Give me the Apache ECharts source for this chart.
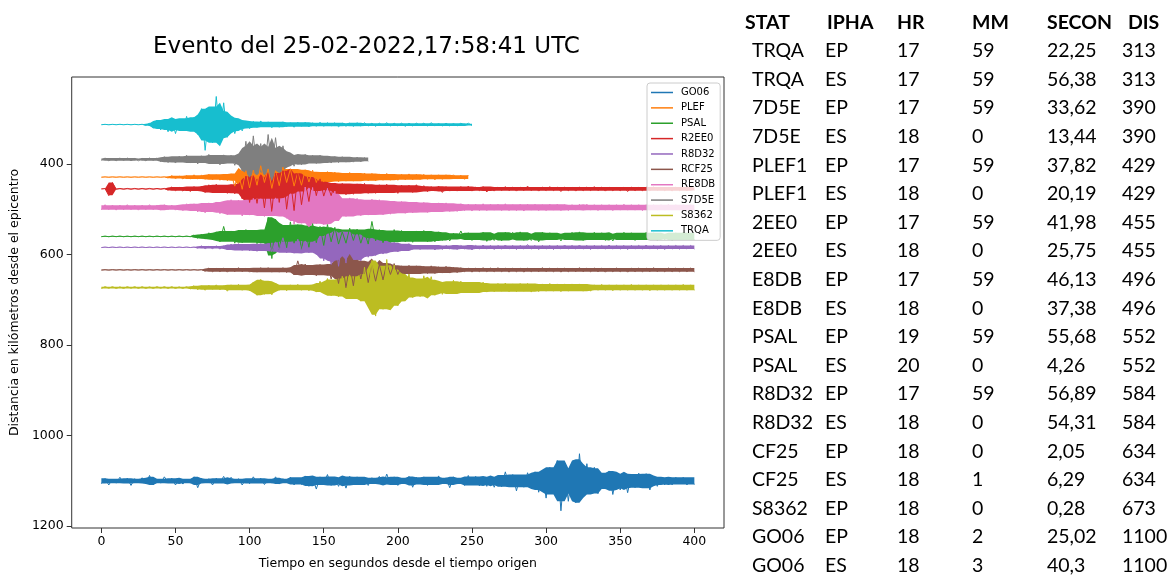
<!DOCTYPE html>
<html>
<head>
<meta charset="utf-8">
<script src="https://cdn.jsdelivr.net/npm/echarts@6/dist/echarts.min.js"></script>
<style>
html, body { margin: 0; padding: 0; background: #fff; }
#wrap { position: relative; width: 1173px; height: 576px; overflow: hidden; }
#chart { position: absolute; left: 0; top: 0; width: 1173px; height: 576px; }
#tabla { position: absolute; left: 0; top: 0; font-family: Lato, 'Open Sans', sans-serif; font-size: 19.5px; color: #000; }
#tabla span { position: absolute; white-space: nowrap; line-height: 24px; }
#tabla .hd { font-weight: bold; }
</style>
</head>
<body>
<div id="wrap">
  <div id="chart"></div>
  <div id="tabla"></div>
</div>
<script>
// estaciones en el orden de la leyenda, distancia en km
const stations = ['GO06', 'PLEF', 'PSAL', 'R2EE0', 'R8D32', 'RCF25', 'RE8DB', 'S7D5E', 'S8362', 'TRQA'];
const distances = [1100, 429, 560, 455, 584, 634, 496, 390, 673, 313];
const xTicks = [0, 50, 100, 150, 200, 250, 300, 350, 400];
const yTicks = [400, 600, 800, 1000, 1200];

// muestras de cada traza (km respecto a la distancia), cada 2.5 s desde t=0
const dt = 2.5;
const GO06 = [
  6,-5,9,-4,5,-8,4,-6,10,-5,4,-7,6,-12,9,-4,5,-9,4,-6,
  9,-5,7,-4,5,-9,15,-6,4,-5,9,-6,4,-10,6,-8,4,-5,9,-4,
  6,-9,4,-6,8,-4,5,-9,7,-5,4,-8,9,-5,
  8,-11,12,-6,18,-9,7,-14,10,-6,12,-8,16,-10,6,-9,
  9,-6,10,-7,5,-10,8,-15,6,-9,10,-5,7,-10,14,-8,5,-9,10,-6,
  9,-11,6,-7,15,-9,7,-5,10,-12,8,-10,11,-6,12,-9,
  14,-9,13,-20,10,-14,22,-11,14,-18,9,-20,
  25,-18,38,-30,22,-45,66,-28,45,-25,48,-60,30,-38,22,-30,28,
  -14,18,-22,30,-12,20,-16,26,-12,15,-17,10,-16,20,-9,12,
  -8,9,-6,9,-8,5,-8,9,-5,8
];
const PLEF = [
  0.5,-0.5,0.6,-0.5,0.5,-0.6,0.5,-0.5,0.6,-0.5,0.5,-0.6,0.5,-0.5,0.6,-0.5,0.5,-0.6,
  2,-3,3,-2,4,-3,4,-5,4,-4,5,-6,6,-5,7,-6,8,-7,
  20,-8,27,-14,
  24,-15,18,-25,12,-18,25,-14,19,-22,12,-18,20,-10,18,-16,11,-15,
  12,-11,11,-12,10,-11,10,-9,9,-10,9,-9,8,-9,8,-8,
  8,-7,7,-8,7,-6,7,-6,6,-7,6,-6,5,-6,5,-5,6,-5,5,-5,4,-5,4,-4,5,-4
];
const PSAL = [
  0.8,-0.7,0.8,-0.8,0.7,-0.8,0.8,-0.7,0.8,-0.8,0.7,-0.8,0.8,-0.7,0.8,-0.8,0.7,-0.8,0.8,-0.7,0.8,-0.8,0.7,-0.8,0.8,
  -3,4,-5,6,-8,7,-10,12,-22,9,-12,15,-8,14,-15,8,-14,16,-9,15,
  -42,49,-38,
  30,-18,25,-32,15,-26,30,-17,24,-28,14,-22,20,-26,12,-20,
  17,-10,15,-18,9,-16,15,-10,17,-33,10,-15,14,-9,13,-15,9,-13,12,-8,13,-12,8,-13,12,-7,12,-10,
  9,-5,10,-7,5,-12,6,-8,9,-5,8,-9,11,-5,9,-6,10,-9,5,-9,
  7,-10,9,-5,9,-6,12,-9,5,-8,8,-6,10,-5,8,-9,6,-10,9,-6,
  8,-9,5,-8,9,-6,10,-5,8,-9,6,-8,9,-5,8,-9,5,-8,9,-6,
  8,-5,9,-8,6,-9,8,-5,8
];
const R2EE0 = [
  0.5,-0.5,
  15,-14,
  1,-1,1,-1,1,-1,1,-1,1,-1,1,-1,1,-1,
  3,-4,4,-3,5,-4,6,-5,4,-6,
  8,-9,7,-10,9,-8,10,-9,11,-10,
  22,-28,30,-15,32,-20,
  42,-25,50,-35,30,-40,45,-22,48,-34,
  35,-18,28,-26,15,-22,
  16,-9,15,-13,8,-12,13,-7,12,-11,7,-12,10,-6,10,-9,6,-10,9,-6,10,-8,5,-8,8,-9,5,-7,
  6,-5,5,-6,8,-5,5,-4,5,-5,4,-6,5,-4,4,-5,7,-4,5,-4,
  4,-5,4,-4,5,-4,4,-6,4,-4,5,-4,4,-5,4,-4,6,-4,4,-4,
  5,-4,4,-4,4,-5,4,-4,5,-4,4,-3,4,-4,6,-4,4,-3,4,-4,
  4,-4,3,-4,4,-3,5,-4,4,-3,4,-4,3
];
const R8D32 = [
  0.7,-0.6,0.7,-0.7,0.6,-0.7,0.7,-0.6,0.7,-0.7,0.6,-0.7,0.7,-0.6,0.7,-0.7,0.6,-0.7,0.7,-0.6,0.7,-0.7,0.6,-0.7,0.7,-0.6,
  2,-3,3,-2,3,-3,4,-3,
  6,-7,6,-8,7,-6,8,-7,9,-8,7,-9,
  10,-12,6,-21,12,-7,13,-18,8,-14,12,-9,16,
  -25,30,-14,38,-32,42,-18,35,-34,20,-28,30,-15,22,-20,
  18,-10,15,-14,8,-11,10,-6,8,-8,
  5,-4,5,-5,4,-5,6,-4,5,-4,4,-5,5,-4,4,-5,6,-4,4,-5,
  4,-4,5,-4,4,-5,4,-4,5,-4,4,-6,4,-4,5,-4,4,-4,5,-4,
  4,-5,4,-4,4,-5,4,-4,5,-4,4,-4,4,-5,4,-4,4,-4,5,-4,
  4,-4,4,-5,4,-4,4,-4,5,-4,4,-4,4,-4,4,-4,4
];
const RCF25 = [
  0.7,-0.6,0.7,-0.7,0.6,-0.7,0.7,-0.6,0.7,-0.7,0.6,-0.7,0.7,-0.6,0.7,-0.7,0.6,-0.7,0.7,-0.6,0.7,-0.7,0.6,-0.7,0.7,-0.6,0.7,-0.7,
  3,-4,4,-3,4,-4,5,-4,4,-5,4,-4,5,-4,5,-5,4,-5,5,-4,5,-5,6,-5,
  11,-20,7,-13,11,-8,13,-12,8,-13,
  20,-10,30,-22,40,-12,35,-22,20,-18,28,-10,
  25,-12,22,-15,10,-14,
  10,-9,9,-10,8,-9,9,-8,8,-9,8,-7,7,-8,7,-6,6,
  -5,4,-4,5,-4,4,-5,4,-4,4,-5,4,-4,5,-4,4,-4,5,-4,4,
  -4,4,-5,4,-4,4,-4,5,-4,4,-4,4,-5,4,-4,4,-4,4,-4,5,
  -4,4,-4,4,-4,5,-4,4,-4,4,-4,4,-5,4,-4,4,-4,4,-4,4,
  -4,4,-4,4
];
const RE8DB = [
  5,-6,5,-5,6,-5,5,-6,5,-5,6,-5,5,-6,5,-5,6,-6,5,-5,6,-5,
  7,-8,5,-8,10,-6,12,-10,7,-12,14,-8,16,
  -17,10,-16,19,-9,17,-20,11,-19,20,-10,19,-21,12,-20,24,
  -30,37,-20,35,-45,22,-44,36,-25,38,-42,20,-36,30,
  -14,20,-21,11,-20,18,-10,17,-18,9,-17,
  16,-9,15,-14,8,-13,13,-8,12,-12,7,-11,11,-7,10,-10,6,-10,9,-6,9,
  -8,7,-7,8,-7,7,-8,7,-7,6,-7,7,-8,7,-6,7,-7,8,-7,6,
  -7,7,-6,7,-7,6,-7,7,-6,7,-6,6,-7,6,-7,6,-6,7,-6,6,
  -6,7,-6,6,-7,6,-6,6,-6,7,-6,6,-6,6,-6,6,-7,6,-6,6,
  -6,6,-6,6
];
const S7D5E = [
  2,-3,3,-2,3,-3,2,-3,3,-2,3,-2,3,-3,2,-3,
  5,-6,7,-4,8,-7,4,-9,8,-5,10,-8,5,-11,10,-6,12,-10,7,-9,13,-8,
  25,-40,30,-52,22,-35,28,-55,20,-48,25,-30,
  18,-10,15,-8,12,-11,6,-9,9,
  -9,8,-7,8,-6,7,-6,6,-5,6,-5,5,-4,4
];
const S8362 = [
  2,-2,1.5,-2,2,-1.5,2,-2,1.5,-2,2,-2,2,-1.5,2,-2,1.5,-2,2,-2,2,-1.5,2,-2,
  3,-4,5,-4,6,-5,4,-6,5,-4,8,-6,5,-7,6,-5,7,
  -12,17,-18,15,-14,16,-10,
  6,-5,7,-6,5,-7,6,-5,7,-6,
  10,-14,6,-20,18,-10,20,-25,12,-28,25,-15,30,
  -45,28,-60,63,-30,48,-62,25,-50,40,
  -31,14,-30,22,-15,20,-26,10,-24,17,-12,
  15,-9,14,-16,8,-14,12,-7,12,-12,6,-12,10,-6,
  9,-9,8,-10,9,-8,9,-9,8,-9,10,-8,9,-8,8,-9,8,-8,9,-8,8,-8,7,-8,8,-7,8,
  -6,6,-7,6,-6,7,-6,6,-6,6,-7,6,-6,6,-6,7,-6,6,-6,6,-6,6,-6,6,-7,6,-6,6
];
const TRQA = [
  0.5,-0.5,0.6,-0.5,0.5,-0.6,0.5,-0.5,0.6,-0.5,0.5,-0.6,
  2,-3,
  8,-10,12,-6,16,-12,20,-9,14,-18,8,-16,
  22,-35,57,-20,40,-62,30,-48,
  28,-15,20,-10,14,-8,9,
  -7,6,-8,5,-6,7,-5,6,-6,5,-4,6,-5,4,-5,5,-4,4,-5,4,
  -4,3,-4,5,-3,4,-3,4,-4,3,-4,3,-3,4,-3,3,-4,3,-3,3,
  -3,4,-3,3,-3,2,-3,3,-4,3,-2,3,-3,3,-2,3,-3,2,-3,2
];
const traces = [GO06, PLEF, PSAL, R2EE0, R8D32, RCF25, RE8DB, S7D5E, S8362, TRQA];

// tabla de fases
const tableHeader = ['STAT', 'IPHA', 'HR', 'MM', 'SECON', 'DIS'];
const colStat = ['TRQA', 'TRQA', '7D5E', '7D5E', 'PLEF1', 'PLEF1', '2EE0', '2EE0', 'E8DB', 'E8DB', 'PSAL', 'PSAL', 'R8D32', 'R8D32', 'CF25', 'CF25', 'S8362', 'GO06', 'GO06'];
const colIpha = ['EP', 'ES', 'EP', 'ES', 'EP', 'ES', 'EP', 'ES', 'EP', 'ES', 'EP', 'ES', 'EP', 'ES', 'EP', 'ES', 'EP', 'EP', 'ES'];
const colHr = ['17', '17', '17', '18', '17', '18', '17', '18', '17', '18', '19', '20', '17', '18', '18', '18', '18', '18', '18'];
const colMm = ['59', '59', '59', '0', '59', '0', '59', '0', '59', '0', '59', '0', '59', '0', '0', '1', '0', '2', '3'];
const colSecon = ['22,25', '56,38', '33,62', '13,44', '37,82', '20,19', '41,98', '25,75', '46,13', '37,38', '55,68', '4,26', '56,89', '54,31', '2,05', '6,29', '0,28', '25,02', '40,3'];
const colDis = ['313', '313', '390', '390', '429', '429', '455', '455', '496', '496', '552', '552', '584', '584', '634', '634', '673', '1100', '1100'];

const colors = ['#1f77b4', '#ff7f0e', '#2ca02c', '#d62728', '#9467bd', '#8c564b', '#e377c2', '#7f7f7f', '#bcbd22', '#17becf'];

function addCell(box, text, x, cy, bold) {
    const s = document.createElement('span');
    s.textContent = text;
    s.style.left = x + 'px';
    s.style.top = (cy - 12) + 'px';
    if (bold) s.className = 'hd';
    box.appendChild(s);
}

function initTable() {
    const box = document.getElementById('tabla');
    const headX = [745, 827, 897, 972, 1047, 1128];
    const bodyX = [752, 825, 897, 972, 1047, 1122];
    const cols = [colStat, colIpha, colHr, colMm, colSecon, colDis];
    tableHeader.forEach((h, c) => addCell(box, h, headX[c], 21.5, true));
    colStat.forEach((_, r) => {
        cols.forEach((col, c) => addCell(box, col[r], bodyX[c], 21.5 + 28.6 * (r + 1), false));
    });
}

// nucleo relleno de la traza: en cada muestra, la mediana de su amplitud y la de sus vecinas;
// los picos sueltos quedan como agujas de la linea encima
function coreSeries(k) {
    const vals = traces[k];
    return {
        type: 'custom',
        name: stations[k] + '_core',
        silent: true,
        data: [[0, distances[k]]],
        renderItem: (params, api) => {
            const up = [];
            const down = [];
            vals.forEach((v, i) => {
                const trio = [v, vals[i - 1] ?? v, vals[i + 1] ?? v].map(Math.abs).sort((a, b) => a - b);
                const a = trio[1];
                up.push(api.coord([i * dt, distances[k] - a]));
                down.push(api.coord([i * dt, distances[k] + a]));
            });
            return {
                type: 'polygon',
                shape: { points: up.concat(down.reverse()) },
                style: { fill: colors[k] }
            };
        }
    };
}

function initChart() {
    const chart = echarts.init(document.getElementById('chart'));
    const font = 'DejaVu Sans';

    const series = [];
    stations.forEach((name, k) => {
        series.push(coreSeries(k));
        series.push({
            name: name,
            type: 'line',
            symbol: 'none',
            silent: true,
            lineStyle: { width: 1, color: colors[k] },
            itemStyle: { color: colors[k] },
            data: traces[k].map((v, i) => [i * dt, distances[k] + v])
        });
    });

    chart.setOption({
        animation: false,
        title: {
            text: 'Evento del 25-02-2022,17:58:41 UTC',
            left: 153, top: 36, padding: 0,
            textStyle: { fontFamily: font, fontSize: 23, fontWeight: 'normal', color: '#000' }
        },
        legend: {
            data: stations,
            orient: 'vertical',
            left: 647, top: 83,
            icon: 'rect',
            itemWidth: 22, itemHeight: 1.5, itemGap: 4.37,
            padding: [4, 5, 4, 4],
            backgroundColor: 'rgba(255,255,255,0.8)',
            borderColor: '#ccc', borderWidth: 1, borderRadius: 3,
            textStyle: { fontFamily: font, fontSize: 10, lineHeight: 11, color: '#000', padding: [0, 0, 0, 3] }
        },
        grid: {
            left: 70, top: 77, width: 654, height: 451,
            show: true, borderColor: '#333', borderWidth: 1, backgroundColor: 'transparent'
        },
        xAxis: {
            type: 'value', min: -20, max: 420,
            name: 'Tiempo en segundos desde el tiempo origen',
            nameLocation: 'middle', nameGap: 29,
            nameTextStyle: { fontFamily: font, fontSize: 12.5, color: '#000' },
            axisLine: { show: false, onZero: false },
            axisTick: { show: true, length: 5, customValues: xTicks, lineStyle: { color: '#333' } },
            axisLabel: { customValues: xTicks, margin: 7, fontFamily: font, fontSize: 12.5, color: '#000', formatter: v => String(v) },
            splitLine: { show: false }
        },
        yAxis: {
            type: 'value', min: 208, max: 1204, inverse: true,
            name: 'Distancia en kilómetros desde el epicentro',
            nameLocation: 'middle', nameGap: 43,
            nameTextStyle: { fontFamily: font, fontSize: 12.5, color: '#000' },
            axisLine: { show: false, onZero: false },
            axisTick: { show: true, length: 5, customValues: yTicks, lineStyle: { color: '#333' } },
            axisLabel: { customValues: yTicks, margin: 8, fontFamily: font, fontSize: 12.5, color: '#000', formatter: v => String(v) },
            splitLine: { show: false }
        },
        series: series
    });
}

document.addEventListener('DOMContentLoaded', () => {
    initChart();
    initTable();
});
</script>
</body>
</html>
